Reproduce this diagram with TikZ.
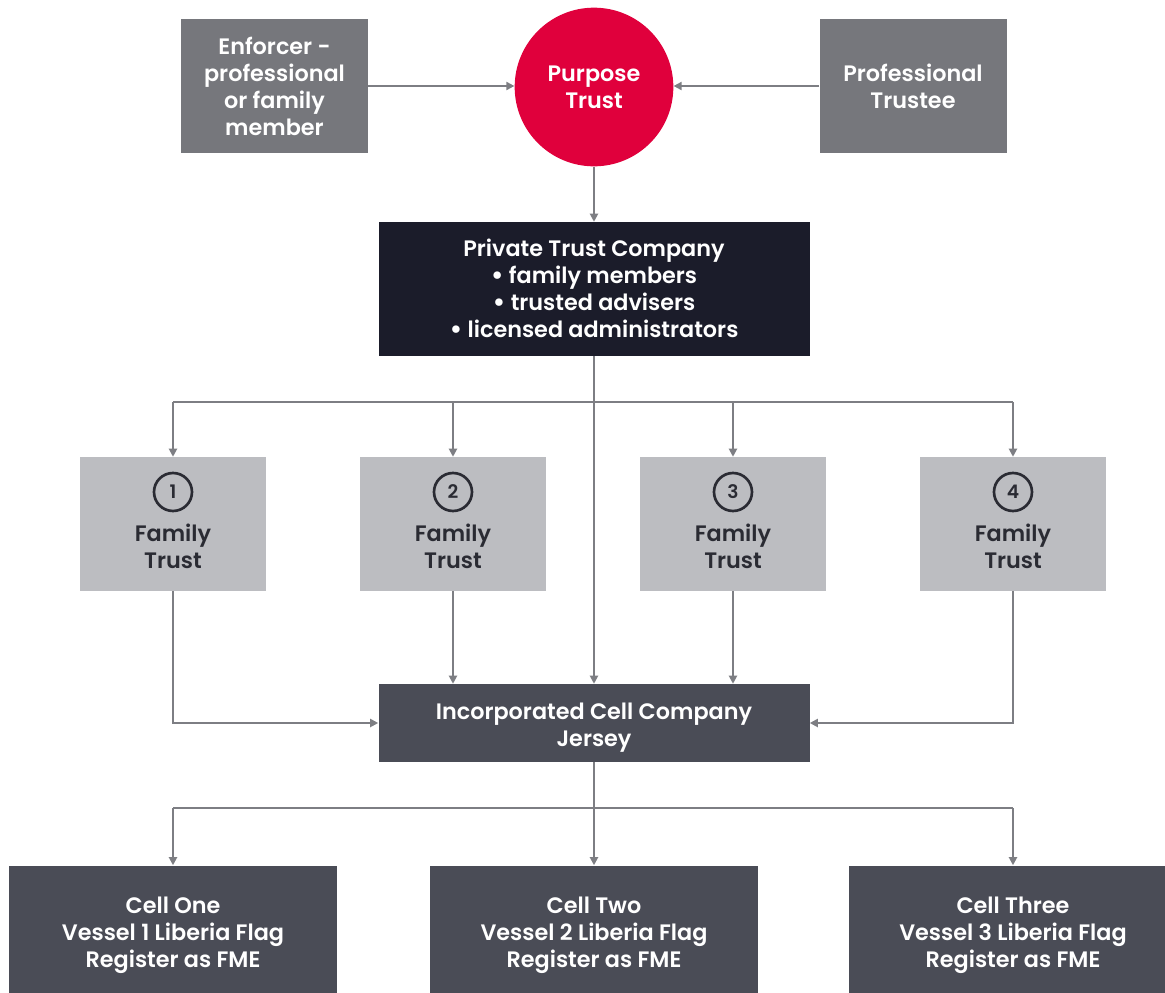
\documentclass[tikz,border=0pt]{standalone}
\usepackage{fontspec}
\setmainfont{Poppins}[BoldFont={Poppins SemiBold}]
\usetikzlibrary{arrows.meta}
\definecolor{topgray}{HTML}{76777C}
\definecolor{ptred}{HTML}{E0003C}
\definecolor{ptcnavy}{HTML}{1B1C2A}
\definecolor{ftgray}{HTML}{BCBDC1}
\definecolor{iccgray}{HTML}{4A4C56}
\definecolor{linegray}{HTML}{7D7E83}
\definecolor{fttext}{HTML}{2A2B33}
\newcommand{\bul}{{\fontsize{20}{20}\selectfont\raisebox{-0.5pt}{\textbullet}}}
\tikzset{
  lbl/.style={font=\bfseries\fontsize{16.75}{20.25}\selectfont, align=center, inner sep=0pt},
  topbox/.style={lbl, fill=topgray, text=white, minimum width=140.25pt, minimum height=100.5pt},
  redcirc/.style={lbl, circle, fill=ptred, text=white, minimum size=119pt},
  navybox/.style={lbl, fill=ptcnavy, text=white, minimum width=323.25pt, minimum height=100.5pt},
  ftbox/.style={fill=ftgray, minimum width=139.5pt, minimum height=100.5pt, inner sep=0pt},
  fttxt/.style={lbl, text=fttext},
  numcirc/.style={circle, draw=fttext, line width=2pt, minimum size=28.5pt, inner sep=0pt, text=fttext, font=\bfseries\fontsize{14}{14}\selectfont},
  iccbox/.style={fill=iccgray, minimum width=323.25pt, minimum height=58.5pt, inner sep=0pt},
  wtxt/.style={lbl, text=white},
  cellbox/.style={lbl, fill=iccgray, text=white, minimum width=246pt, minimum height=104.25pt},
  wire/.style={draw=linegray, line width=1.4pt},
  conn/.style={wire, -{Triangle[length=6pt,width=6pt]}},
}
\begin{document}
\begin{tikzpicture}[x=0.75pt,y=-0.75pt]
\useasboundingbox[fill=white] (0,0) rectangle (1165,993);
% top row
\node[topbox] (enf) at (274.5,86) {Enforcer -\\professional\\or family\\member};
\node[redcirc] (pt) at (594,87) {Purpose\\Trust};
\node[topbox] (prof) at (913,86) {Professional\\Trustee};
% PTC
\node[navybox] (ptc) at (594,289) {Private Trust Company\\\bul\ family members\\\bul\ trusted advisers\\\bul\ licensed administrators};
% family trusts
\foreach \i/\x in {1/173,2/453,3/733,4/1013}{
  \node[ftbox] (ft\i) at (\x,524) {};
  \node[numcirc] (num\i) at (\x,492) {\i};
  \node[fttxt] (ftt\i) at (\x,546) {Family\\Trust};
}
% ICC
\node[iccbox] (icc) at (594,723) {};
\node[wtxt] (icct) at (594,728) {Incorporated Cell Company\\Jersey};
% cells
\node[cellbox] (cell1) at (173,935) {Cell One\\Vessel 1 Liberia Flag\\Register as FME};
\node[cellbox] (cell2) at (594,935) {Cell Two\\Vessel 2 Liberia Flag\\Register as FME};
\node[cellbox] (cell3) at (1013,935) {Cell Three\\Vessel 3 Liberia Flag\\Register as FME};
% coordinates for buses
\coordinate (bus) at (594,402);
\coordinate (bus2) at (594,808);
% connectors top
\draw[conn] (enf.east) -- (enf.east -| pt.west);
\draw[conn] (prof.west) -- (prof.west -| pt.east);
\draw[conn] (pt.south) -- (ptc.north);
% PTC to trusts
\draw[conn] (ptc.south) -- (icc.north);
\draw[wire] (ft1.north |- bus) -- (ft4.north |- bus);
\foreach \i in {1,2,3,4}{
  \draw[conn] (ft\i.north |- bus) -- (ft\i.north);
}
% trusts to ICC
\draw[conn] (ft1.south) |- (icc.west);
\draw[conn] (ft2.south) -- (ft2.south |- icc.north);
\draw[conn] (ft3.south) -- (ft3.south |- icc.north);
\draw[conn] (ft4.south) |- (icc.east);
% ICC to cells
\draw[wire] (icc.south) -- (bus2);
\draw[wire] (cell1.north |- bus2) -- (cell3.north |- bus2);
\draw[conn] (cell1.north |- bus2) -- (cell1.north);
\draw[conn] (bus2) -- (cell2.north);
\draw[conn] (cell3.north |- bus2) -- (cell3.north);
\end{tikzpicture}
\end{document}
